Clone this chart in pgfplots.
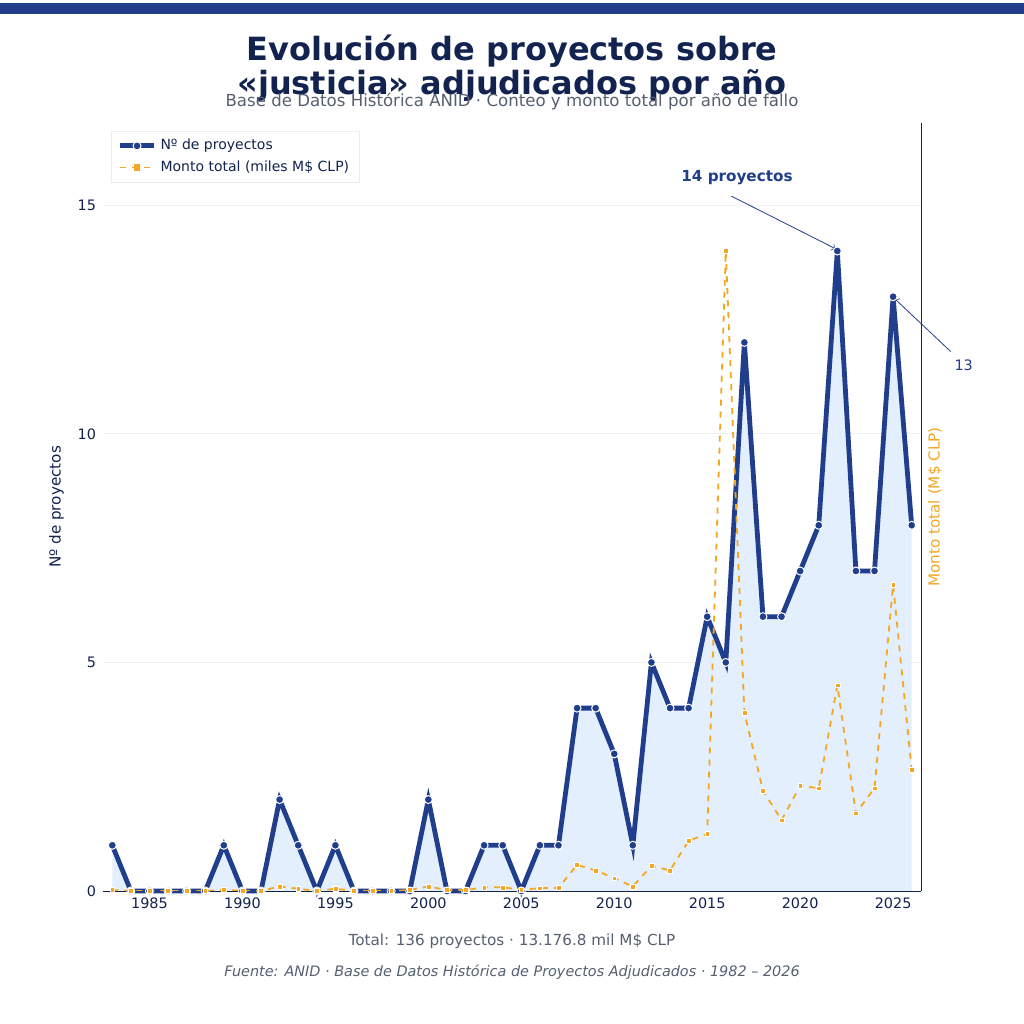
\documentclass[border=0pt]{standalone}
\usepackage{pgfplots}
\pgfplotsset{compat=1.18}
\usepackage{fontspec}
\setmainfont{DejaVu Sans}
\setsansfont{DejaVu Sans}
\definecolor{bl}{HTML}{213E8C}
\definecolor{fillb}{HTML}{E3EFFC}
\definecolor{og}{HTML}{F5A623}
\definecolor{dk}{HTML}{13234F}
\definecolor{gr}{HTML}{556070}
\pgfplotstableread{
year n m
1983 1 0.02
1984 0 0
1985 0 0
1986 0 0
1987 0 0
1988 0 0
1989 1 0.03
1990 0 0
1991 0 0
1992 2 0.1
1993 1 0.05
1994 0 0
1995 1 0.05
1996 0 0
1997 0 0
1998 0 0
1999 0 0.02
2000 2 0.1
2001 0 0.02
2002 0 0.02
2003 1 0.08
2004 1 0.08
2005 0 0.03
2006 1 0.06
2007 1 0.07
2008 4 0.57
2009 4 0.45
2010 3 0.28
2011 1 0.1
2012 5 0.55
2013 4 0.45
2014 4 1.1
2015 6 1.25
2016 5 14.0
2017 12 3.9
2018 6 2.2
2019 6 1.55
2020 7 2.3
2021 8 2.25
2022 14 4.5
2023 7 1.7
2024 7 2.25
2025 13 6.7
2026 8 2.65
}\data
\begin{document}
\begin{tikzpicture}
\fill[white] (0pt,0pt) rectangle (512pt,512pt);
\fill[bl] (0pt,505pt) rectangle (512pt,510.5pt);
\node[font=\bfseries\fontsize{16}{17}\selectfont,text=dk,align=center] at (256pt,478pt) {Evolución de proyectos sobre\\«justicia» adjudicados por año};
\node[font=\fontsize{8.3}{10}\selectfont,text=gr] at (256pt,461pt) {Base de Datos Histórica ANID · Conteo y monto total por año de fallo};
\node[font=\fontsize{7.6}{9}\selectfont,text=gr] at (256pt,41.5pt) {Total: 136 proyectos · 13.176.8 mil M\$ CLP};
\node[font=\itshape\fontsize{7.2}{9}\selectfont,text=gr] at (256pt,26pt) {Fuente: ANID · Base de Datos Histórica de Proyectos Adjudicados · 1982 – 2026};
\begin{axis}[at={(51.5pt,66.5pt)},anchor=origin,scale only axis,width=409pt,height=384pt,
 xmin=1982.5,xmax=2026.5,ymin=0,ymax=16.8,
 axis x line*=bottom, axis y line*=left, y axis line style={draw=none},
 xtick={1985,1990,...,2025}, ytick={0,5,10,15},
 ymajorgrids, grid style={gray!12},
 tick style={draw=none},
 x axis line style={dk},
 ticklabel style={font=\fontsize{7.2}{9}\selectfont,text=dk},
 /pgf/number format/assume math mode=true,
 /pgf/number format/set thousands separator={},
 ylabel={Nº de proyectos}, ylabel style={font=\fontsize{7.6}{9}\selectfont,text=dk},
 legend style={at={(0.01,0.99)},anchor=north west,font=\fontsize{7}{9}\selectfont,draw=gray!15,text=dk,cells={anchor=west}},
 clip=false]
\addplot[fill=fillb,draw=none,forget plot] table[x=year,y=n]{\data} \closedcycle;
\addplot[bl,line width=2.4pt,mark=*,mark size=2pt,mark options={fill=bl,draw=white,line width=0.5pt}] table[x=year,y=n]{\data};
\addlegendentry{Nº de proyectos}
\addlegendimage{og,dashed,line width=0.9pt,mark=square*,mark size=1.2pt,mark options={solid}}
\addlegendentry{Monto total (miles M\$ CLP)}
\node[font=\bfseries\fontsize{7.6}{9}\selectfont,text=bl] at (axis cs:2016.6,15.6) {14 proyectos};
\draw[->,bl,thin] (axis cs:2016.3,15.2) -- (axis cs:2021.9,14.05);
\node[font=\fontsize{7.2}{9}\selectfont,text=bl] at (axis cs:2028.8,11.5) {13};
\draw[->,bl,thin] (axis cs:2028.1,11.8) -- (axis cs:2025.1,12.95);
\end{axis}
\begin{axis}[at={(51.5pt,66.5pt)},anchor=origin,scale only axis,width=409pt,height=384pt,
 xmin=1982.5,xmax=2026.5,ymin=0,ymax=16.8,
 axis x line=none, axis y line*=right, ytick=\empty, y axis line style={dk},
 ylabel={Monto total (M\$ CLP)}, ylabel style={font=\fontsize{7.6}{9}\selectfont,text=og}]
\addplot[og,dashed,line width=0.9pt,mark=square*,mark size=1.2pt,mark options={solid,draw=white,line width=0.2pt,fill=og}] table[x=year,y=m]{\data};
\end{axis}
\end{tikzpicture}
\end{document}
